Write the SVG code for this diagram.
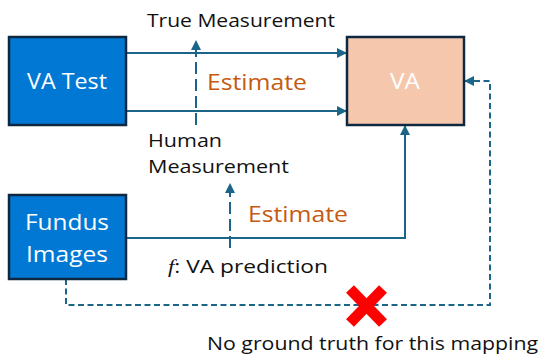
<svg xmlns="http://www.w3.org/2000/svg" width="539" height="354" viewBox="0 0 539 354">
<style>
.box{stroke:#0E2841;stroke-width:2.5}
.blue{fill:#0078D4}
.peach{fill:#F5C8AE}
.wt{fill:#fff;font-family:"Open Sans","Liberation Sans",Arial,sans-serif;font-size:22px}
.t{fill:#111;font-family:"Open Sans","Liberation Sans",Arial,sans-serif;font-size:18.5px}
.est{fill:#C55A11;font-family:"Open Sans","Liberation Sans",Arial,sans-serif;font-size:22px}
.ln{stroke:#1B6688;stroke-width:2;fill:none}
.dash{stroke:#1B6688;stroke-width:2;fill:none;stroke-dasharray:6 3.5}
.ldash{stroke:#1B6688;stroke-width:2;fill:none;stroke-dasharray:12 5}
</style>
<defs>
<marker id="ah" viewBox="0 0 10 10" refX="9" refY="5" markerWidth="5" markerHeight="5" orient="auto" markerUnits="strokeWidth">
<path d="M0,0 L10,5 L0,10 z" fill="#1B6688"/>
</marker>
</defs>
<g id="connectors">
<line class="ln" x1="126" y1="53" x2="346" y2="53" marker-end="url(#ah)"/>
<line class="ln" x1="126" y1="111" x2="346" y2="111" marker-end="url(#ah)"/>
<line class="ldash" x1="196" y1="125" x2="196" y2="41" marker-end="url(#ah)"/>
<polyline class="ln" points="126,238 405,238 405,126" marker-end="url(#ah)"/>
<line class="ldash" x1="230" y1="248" x2="230" y2="184" marker-end="url(#ah)"/>
<polyline class="dash" points="66,279 66,305 490,305 490,81 465,81" marker-end="url(#ah)"/>
</g>
<g id="va-test">
<rect class="box blue" x="9" y="37" width="117" height="88"/>
<text class="wt" x="27" y="89" textLength="80" lengthAdjust="spacingAndGlyphs">VA Test</text>
</g>
<g id="va">
<rect class="box peach" x="347" y="37" width="117" height="88"/>
<text class="wt" x="390" y="89" textLength="30" lengthAdjust="spacingAndGlyphs">VA</text>
</g>
<g id="fundus">
<rect class="box blue" x="9" y="195" width="117" height="84"/>
<text class="wt" x="25" y="230" textLength="84" lengthAdjust="spacingAndGlyphs">Fundus</text>
<text class="wt" x="26" y="261.5" textLength="82" lengthAdjust="spacingAndGlyphs">Images</text>
</g>
<g id="labels">
<text class="t" x="147" y="26.5" textLength="188" lengthAdjust="spacingAndGlyphs">True Measurement</text>
<text class="est" x="207" y="90" textLength="100" lengthAdjust="spacingAndGlyphs">Estimate</text>
<text class="t" x="148" y="146.5" textLength="74" lengthAdjust="spacingAndGlyphs">Human</text>
<text class="t" x="148" y="173" textLength="141" lengthAdjust="spacingAndGlyphs">Measurement</text>
<text class="est" x="248" y="222" textLength="100" lengthAdjust="spacingAndGlyphs">Estimate</text>
<text class="t" x="168" y="273" textLength="160" lengthAdjust="spacingAndGlyphs"><tspan font-family="Liberation Serif,serif" font-style="italic">f</tspan>: VA prediction</text>
<text class="t" x="207" y="350" textLength="331" lengthAdjust="spacingAndGlyphs">No ground truth for this mapping</text>
</g>
<g id="cross" stroke="#FF0000" stroke-width="11">
<line x1="350" y1="289" x2="383" y2="323"/>
<line x1="383" y1="289" x2="350" y2="323"/>
</g>
</svg>
